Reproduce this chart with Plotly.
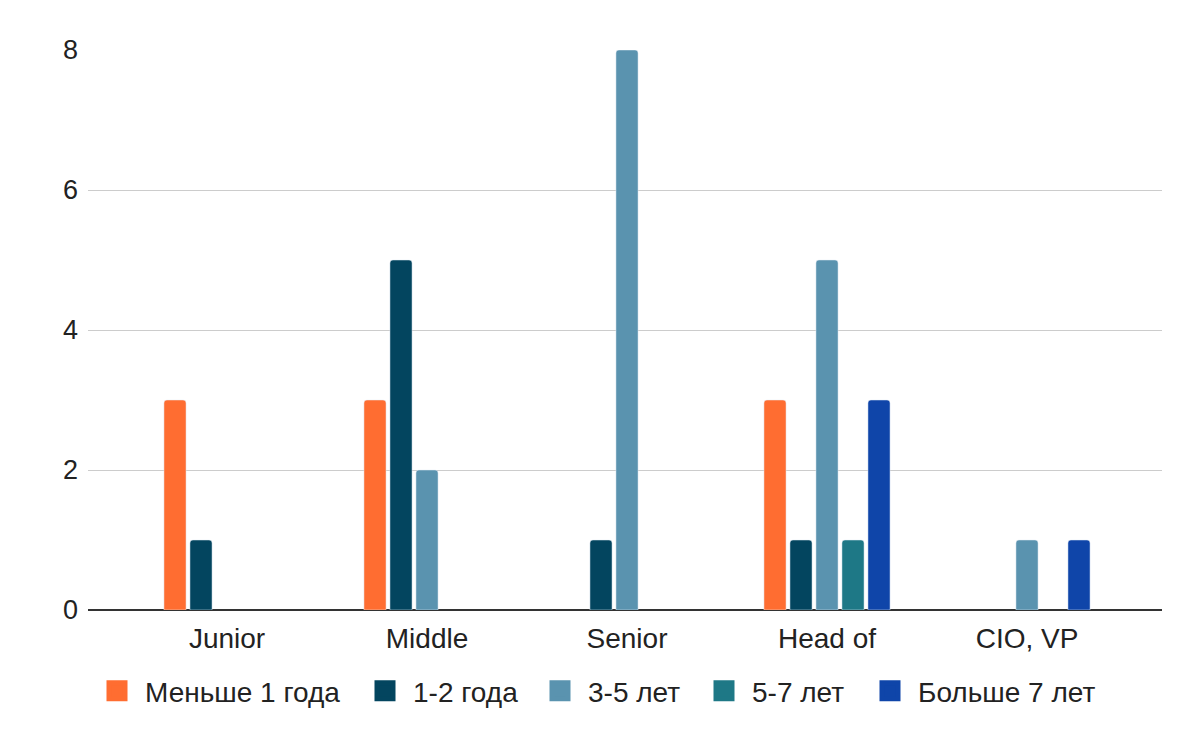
import plotly.graph_objects as go

categories = ["Junior", "Middle", "Senior", "Head of", "CIO, VP"]
series_names = ["Меньше 1 года", "1-2 года", "3-5 лет", "5-7 лет", "Больше 7 лет"]
less_1 = [3, 3, None, 3, None]
y1_2 = [1, 5, 1, 1, None]
y3_5 = [None, 2, 8, 5, 1]
y5_7 = [None, None, None, 1, None]
more_7 = [None, None, None, 3, 1]
colors = ["#FF6D31", "#03455F", "#5A93AF", "#1E7886", "#0F45A9"]
y_ticks = [0, 2, 4, 6, 8]

series = [less_1, y1_2, y3_5, y5_7, more_7]

FONT = "Liberation Sans, Arial, sans-serif"
W, H = 1192, 734
# left edge (figure px) of each legend entry
legend_left_px = [81, 349, 524, 688, 854]
legend_mid_px = 683

fig = go.Figure()
for name, vals, col in zip(series_names, series, colors):
    fig.add_trace(go.Bar(
        x=categories, y=vals, name=name, marker_color=col,
        showlegend=False, hoverinfo="x+y+name",
    ))

legend_layouts = {}
for i, (name, col) in enumerate(zip(series_names, colors)):
    lname = "legend" if i == 0 else f"legend{i + 1}"
    fig.add_trace(go.Scatter(
        x=[None], y=[None], mode="markers", name=name,
        marker=dict(symbol="square", size=16, color=col, line=dict(color=col, width=5)),
        showlegend=True, hoverinfo="skip", legend=lname,
    ))
    legend_layouts[lname] = dict(
        xref="container", yref="container",
        x=legend_left_px[i] / W, xanchor="left",
        y=1 - legend_mid_px / H, yanchor="middle",
        itemwidth=46, borderwidth=0, bgcolor="rgba(0,0,0,0)",
        font=dict(family=FONT, size=28, color="#222222"),
        itemclick=False, itemdoubleclick=False,
    )

fig.update_layout(
    width=W, height=H,
    margin=dict(l=80, r=38, t=42, b=132, autoexpand=False),
    paper_bgcolor="white", plot_bgcolor="white",
    barmode="group", bargap=0.35, bargroupgap=0.15,
    barcornerradius=3,
    font=dict(family=FONT, size=27, color="#222222"),
    xaxis=dict(
        type="category", range=[-0.695, 4.675],
        showgrid=False, showline=False, ticks="", ticklabelstandoff=9,
        tickfont=dict(family=FONT, size=28, color="#222222"),
        fixedrange=True,
    ),
    yaxis=dict(
        range=[0, 8], tickvals=y_ticks, showgrid=True, gridcolor="#CCCCCC", gridwidth=1,
        zeroline=True, zerolinecolor="#333333", zerolinewidth=2,
        showline=False, ticks="", ticklabelstandoff=9,
        tickfont=dict(family=FONT, size=27, color="#222222"),
        fixedrange=True,
    ),
    **legend_layouts,
)

fig.write_html("out.html")
